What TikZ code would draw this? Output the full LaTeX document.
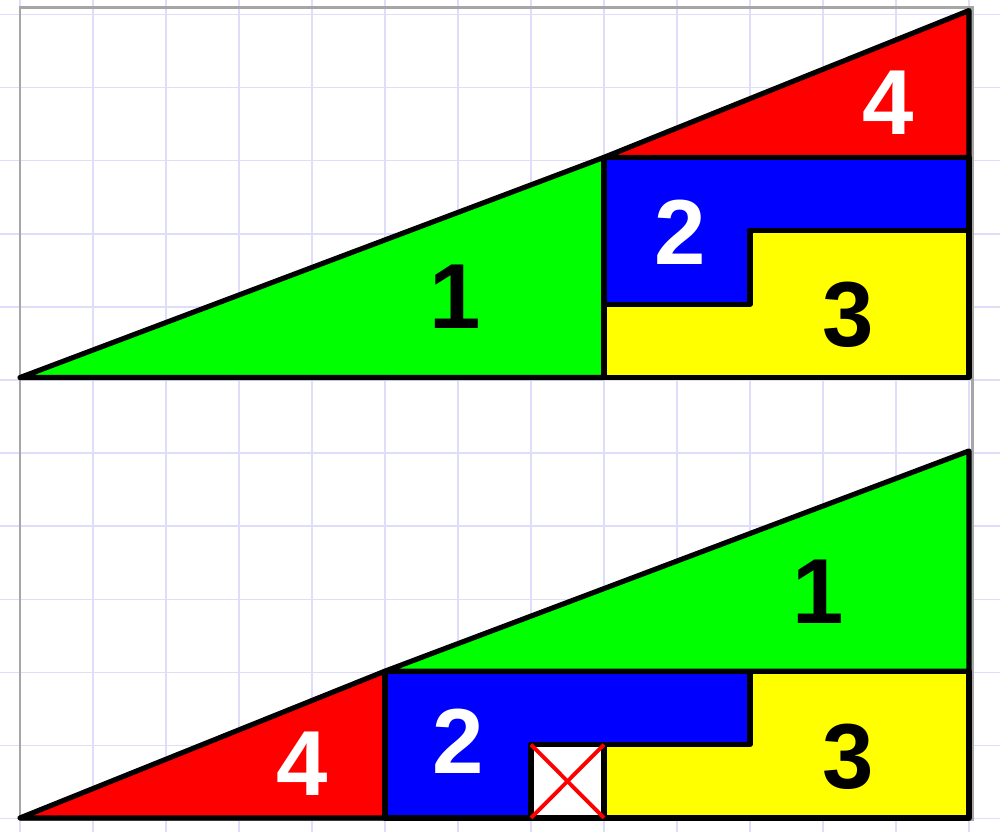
\documentclass[tikz,border=0pt]{standalone}
\usepackage{fontspec}
\setmainfont{Liberation Sans}
\definecolor{pgreen}{RGB}{0,255,0}
\definecolor{pred}{RGB}{255,0,0}
\definecolor{pblue}{RGB}{0,0,255}
\definecolor{pyellow}{RGB}{255,255,0}
\definecolor{gridblue}{RGB}{222,222,250}
\tikzset{
  piece/.style={draw=black, line width=2pt, line join=round},
  digit/.style={font=\fontsize{36}{40}\selectfont\bfseries, inner sep=0pt}
}
\begin{document}
\begin{tikzpicture}[x=1cm, y=1.0055cm]
        \useasboundingbox (-0.274,-0.191) rectangle (13.425,11.144);
        % Grid paper
        \foreach \i in {0,...,13}
            \draw[gridblue, line width=0.6pt] (\i,-0.3) -- (\i,11.3);
        \foreach \j in {0,...,11}
            \draw[gridblue, line width=0.6pt] (-0.3,{0.996*\j-0.01}) -- (13.5,{0.996*\j-0.01});
        \draw[gray!70, line width=1.1pt] (0,-0.02) rectangle (13.05,11.04);
        
        % Upper triangle
        \filldraw[piece, fill=pgreen] (0,6) -- (8,6) -- (8,9) -- cycle;
        \filldraw[piece, fill=pred] (8,9) -- (13,9) -- (13,11) -- cycle;
        \filldraw[piece, fill=pblue] (8,7) -- (10,7) -- (10,8) -- (13,8) -- (13,9) -- (8,9) -- cycle;
        \filldraw[piece, fill=pyellow] (8,6) -- (13,6) -- (13,8) -- (10,8) -- (10,7) -- (8,7) -- cycle;
        
        % Lower triangle
        \filldraw[piece, fill=pgreen] (5,2) -- (13,2) -- (13,5) -- cycle;
        \filldraw[piece, fill=pred] (0,0) -- (5,0) -- (5,2) -- cycle;
        \filldraw[piece, fill=pblue] (5,0) -- (7,0) -- (7,1) -- (10,1) -- (10,2) -- (5,2) -- cycle;
        \filldraw[piece, fill=pyellow] (8,0) -- (13,0) -- (13,2) -- (10,2) -- (10,1) -- (8,1) -- cycle;
        
        % Missing square
        \filldraw[piece, fill=white] (7,0) rectangle (8,1);
        \draw[pred, line width=1.5pt] (7,0) -- (8,1) (7,1) -- (8,0);
        
        % Labels
        \node[digit] (top1) at (5.96,7.1) {1};
        \node[digit, white] (top2) at (9.04,7.98) {2};
        \node[digit] (top3) at (11.34,6.85) {3};
        \node[digit, white] (top4) at (11.89,9.74) {4};
        \node[digit] (bot1) at (10.93,3.08) {1};
        \node[digit, white] (bot2) at (6.0,1.04) {2};
        \node[digit] (bot3) at (11.34,0.83) {3};
        \node[digit, white] (bot4) at (3.86,0.74) {4};
        
    \end{tikzpicture}
\end{document}
